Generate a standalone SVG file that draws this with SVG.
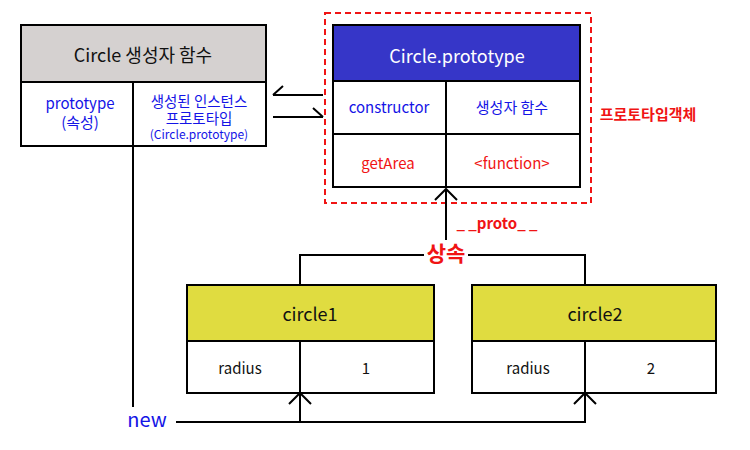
<svg xmlns="http://www.w3.org/2000/svg" width="750" height="450" viewBox="0 0 750 450">
<style>
text{font-family:"Noto Sans CJK KR","Noto Sans",sans-serif;text-anchor:middle;dominant-baseline:central}
.box{stroke:#000;stroke-width:2}
.ln{stroke:#000;stroke-width:2;fill:none}
.b{fill:#1414e6}
.r{fill:#f01414}
.k{fill:#111}
.h{font-size:18px}
.c{font-size:15px}
.bd{font-weight:bold}
</style>
<rect width="750" height="450" fill="#fff"/>
<g id="constructor">
<rect class="box" x="21" y="25" width="245" height="121" fill="#fff"/>
<rect class="box" x="21" y="25" width="245" height="57" fill="#d5d1d0"/>
<line class="ln" x1="133" y1="82" x2="133" y2="146"/>
<text class="k h" x="143" y="54">Circle 생성자 함수</text>
<text class="b c" x="80" y="102">prototype<tspan x="80" y="121">(속성)</tspan></text>
<text class="b" x="199" y="100" font-size="14.5">생성된 인스턴스<tspan x="199" y="117">프로토타입</tspan><tspan x="199" y="133" font-size="12">(Circle.prototype)</tspan></text>
</g>
<g id="prototype">
<rect x="325" y="13" width="266" height="190" fill="none" stroke="#f01414" stroke-width="2" stroke-dasharray="6,4"/>
<rect class="box" x="333" y="25" width="247" height="162" fill="#fff"/>
<rect class="box" x="333" y="25" width="247" height="56" fill="#3636c8"/>
<line class="ln" x1="333" y1="134" x2="580" y2="134"/>
<line class="ln" x1="446" y1="81" x2="446" y2="187"/>
<text class="h" x="457" y="55" fill="#fff">Circle.prototype</text>
<text class="b c" x="389" y="106">constructor</text>
<text class="b c" x="512" y="106">생성자 함수</text>
<text class="r c" x="388" y="162">getArea</text>
<text class="r c" x="512" y="162">&lt;function&gt;</text>
<text class="r c bd" x="648" y="113">프로토타입객체</text>
</g>
<g id="circle1">
<rect class="box" x="187" y="285" width="247" height="108" fill="#fff"/>
<rect class="box" x="187" y="285" width="247" height="56" fill="#e0dc40"/>
<line class="ln" x1="300" y1="341" x2="300" y2="393"/>
<text class="k h" x="310" y="313">circle1</text>
<text class="k c" x="240" y="367">radius</text>
<text class="k c" x="366" y="367">1</text>
</g>
<g id="circle2">
<rect class="box" x="472" y="285" width="244" height="108" fill="#fff"/>
<rect class="box" x="472" y="285" width="244" height="56" fill="#e0dc40"/>
<line class="ln" x1="585" y1="341" x2="585" y2="393"/>
<text class="k h" x="595" y="313">circle2</text>
<text class="k c" x="528" y="367">radius</text>
<text class="k c" x="651" y="367">2</text>
</g>
<g id="connectors">
<path class="ln" d="M273 95H323M273 95L283 86"/>
<path class="ln" d="M273 117H323M323 117L313 108"/>
<path class="ln" d="M446 189V240M435 200L446 189L457 200"/>
<path class="ln" d="M300 285V255H424M468 255H585V285"/>
<text class="r bd" x="446" y="252" font-size="21">상속</text>
<text class="r c bd" x="497" y="222">_ _proto_ _</text>
<path class="ln" d="M133 146V407"/>
<text class="b" x="147" y="418" font-size="20">new</text>
<path class="ln" d="M176 422H585V393M300 422V393M289 404L300 393L311 404M574 404L585 393L596 404"/>
</g>
</svg>
